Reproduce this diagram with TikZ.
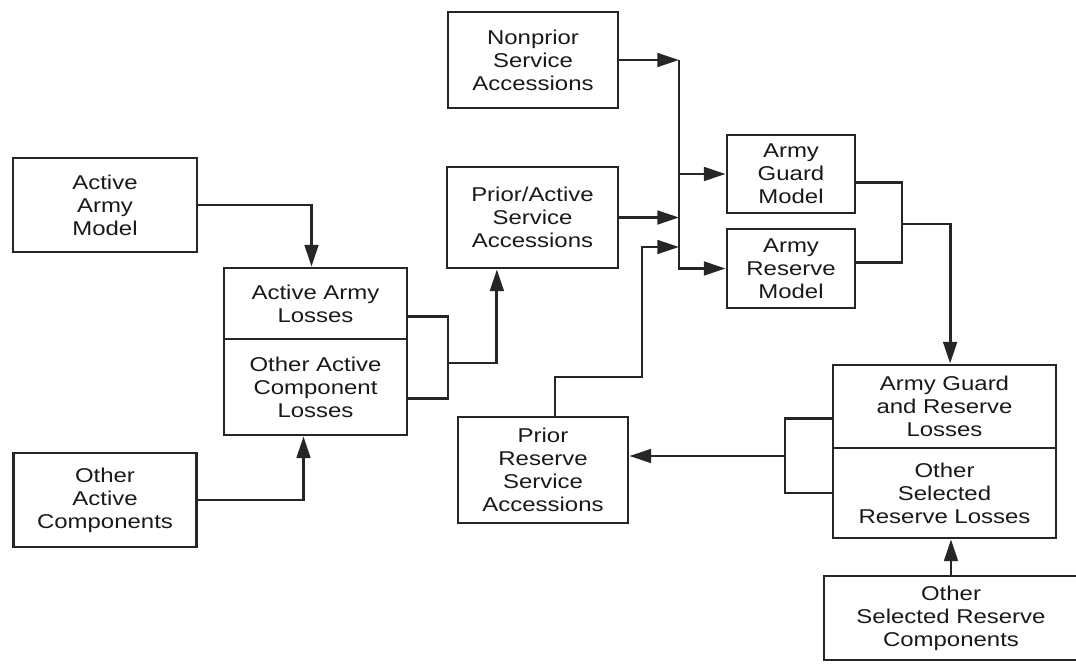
\documentclass[tikz,border=0pt]{standalone}
\usepackage{fontspec}
\newfontfamily\boxfont[FakeStretch=1.2]{Liberation Sans}
\usetikzlibrary{arrows.meta}

\begin{document}
\begin{tikzpicture}[x=0.025cm, y=-0.025cm,
		box/.style={draw=black!85, line width=2pt, align=center, inner sep=0pt, text=black!90, font={\boxfont\fontsize{14.2}{16.4}\selectfont}},
		link/.style={draw=black!85, line width=2pt},
		arr/.style={link, -{Triangle[length=5.4mm, width=3.4mm]}}]
		\useasboundingbox (0,0) rectangle (1076,663);

		\node[box, minimum width=4.6cm, minimum height=2.35cm] (aam) at (105,205) {Active\\Army\\Model};
		\node[box, minimum width=4.575cm, minimum height=2.35cm] (oac) at (105,500) {Other\\Active\\Components};

		\node[box, minimum width=4.575cm, minimum height=1.775cm] (aal) at (315.5,303.5) {Active Army\\Losses};
		\node[box, minimum width=4.575cm, minimum height=2.4cm] (oal) at (315.5,387) {Other Active\\Component\\Losses};

		\node[box, minimum width=4.25cm, minimum height=2.4cm] (npa) at (533,60) {Nonprior\\Service\\Accessions};
		\node[box, minimum width=4.275cm, minimum height=2.525cm] (paa) at (532.5,217.5) {Prior/Active\\Service\\Accessions};
		\node[box, minimum width=4.25cm, minimum height=2.65cm] (prsa) at (543,470) {Prior\\Reserve\\Service\\Accessions};

		\node[box, minimum width=3.2cm, minimum height=1.95cm] (agm) at (791,174) {Army\\Guard\\Model};
		\node[box, minimum width=3.2cm, minimum height=1.975cm] (arm) at (791,268.5) {Army\\Reserve\\Model};

		\node[box, minimum width=5.575cm, minimum height=2.075cm] (agr) at (944.5,406.5) {Army Guard\\and Reserve\\Losses};
		\node[box, minimum width=5.575cm, minimum height=2.25cm] (osr) at (944.5,493) {Other\\Selected\\Reserve Losses};
		\node[box, minimum width=6.35cm, minimum height=2.1cm] (osrc) at (951,618) {Other\\Selected Reserve\\Components};

		\coordinate (bus) at (679,0);
		\coordinate (lb) at (448,363);
		\coordinate (pr) at (642,377);
		\coordinate (rb) at (902,224);
		\coordinate (gb) at (785,456);

		\draw[arr] (aam) -| ([xshift=-1mm]aal.north);
		\draw[arr] (oac) -| ([xshift=-3mm]oal.south);
		\draw[link] ([yshift=-3.3mm]aal.east) -| (lb) |- ([yshift=-2.8mm]oal.east);
		\draw[arr] (lb) -| ([xshift=-8.9mm]paa.south);

		\draw[arr] (npa) -- (npa -| bus);
		\draw[arr] (npa -| bus) |- (arm);
		\draw[arr] (agm -| bus) -- (agm);
		\draw[arr] (paa) -- (paa -| bus);
		\draw[arr] ([xshift=3mm]prsa.north) |- (pr) |- (bus |- 0,247);

		\draw[link] ([yshift=-2.2mm]agm.east) -| (rb) |- ([yshift=1.4mm]arm.east);
		\draw[arr] (rb) -| ([xshift=1.4mm]agr.north);
		\draw[link] ([yshift=-2.9mm]agr.west) -| (gb) |- (osr.west);
		\draw[arr] (gb) -- (gb -| prsa.east);
		\draw[arr] (osrc.north) -- (osrc.north |- osr.south);

	\end{tikzpicture}
\end{document}
